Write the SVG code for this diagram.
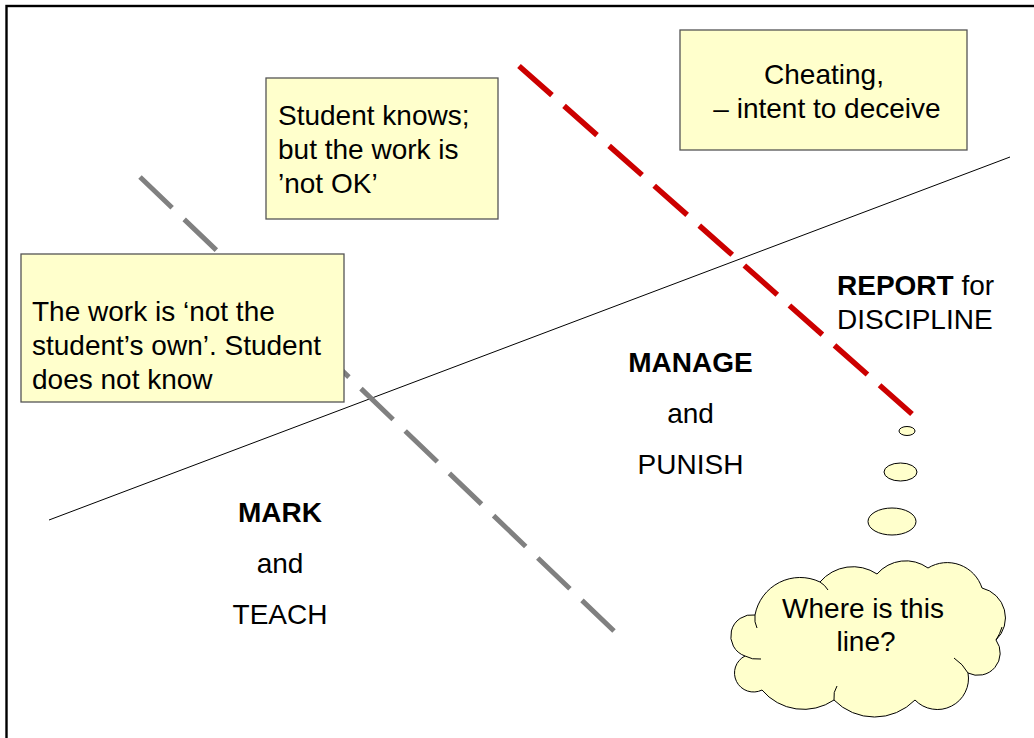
<svg xmlns="http://www.w3.org/2000/svg" width="1034" height="738" viewBox="0 0 1034 738">
<style>
text{font-family:"Liberation Sans",Arial,sans-serif;font-size:28px;fill:#000}
.b{font-weight:bold}
.box{fill:#FFFFCC;stroke:#555;stroke-width:1.3}
.bub{fill:#FFFFCC;stroke:#000;stroke-width:1}
.inner{fill:none;stroke:#000;stroke-width:1}
.c{text-anchor:middle}
</style>
<rect x="0" y="0" width="1034" height="738" fill="#fff"/>
<rect id="frame" x="6.5" y="6" width="1100" height="800" fill="none" stroke="#000" stroke-width="2.4"/>
<g id="lines">
<line x1="49" y1="520" x2="1010" y2="157" stroke="#000" stroke-width="1"/>
<line x1="140" y1="177" x2="614" y2="631" stroke="#808080" stroke-width="5" stroke-dasharray="44.5 16.7"/>
<line x1="519" y1="66" x2="912" y2="414" stroke="#CC0000" stroke-width="5.5" stroke-dasharray="44 16.2"/>
</g>
<g id="box-student-knows">
<rect class="box" x="266" y="78" width="232" height="141"/>
<text x="278" y="125">Student knows;</text>
<text x="278" y="159">but the work is</text>
<text x="278" y="193">’not OK’</text>
</g>
<g id="box-cheating">
<rect class="box" x="680" y="30" width="287" height="120"/>
<text class="c" x="824" y="84">Cheating,</text>
<text class="c" x="827" y="118">– intent to deceive</text>
</g>
<g id="box-not-own">
<rect class="box" x="21" y="254" width="323" height="148"/>
<text x="32" y="321">The work is ‘not the</text>
<text x="32" y="355">student’s own’. Student</text>
<text x="32" y="389">does not know</text>
</g>
<g id="label-report">
<text x="837" y="295"><tspan class="b">REPORT</tspan> for</text>
<text x="837" y="329">DISCIPLINE</text>
</g>
<g id="label-manage">
<text class="c b" x="690.5" y="372">MANAGE</text>
<text class="c" x="690.5" y="423">and</text>
<text class="c" x="690.5" y="474">PUNISH</text>
</g>
<g id="label-mark">
<text class="c b" x="280" y="522">MARK</text>
<text class="c" x="280" y="573">and</text>
<text class="c" x="280" y="624">TEACH</text>
</g>
<g id="thought-cloud">
<ellipse class="bub" cx="907" cy="431" rx="8" ry="4.5"/>
<ellipse class="bub" cx="900.5" cy="472" rx="16.5" ry="9"/>
<ellipse class="bub" cx="892" cy="521.5" rx="24" ry="13.5"/>
<path class="bub" d="M755,615 A45.9,45.9 0 0 1 820,582 A43.2,43.2 0 0 1 877,574 A38,38 0 0 1 928,568 A36.6,36.6 0 0 1 982,588 A30.7,30.7 0 0 1 996,640 A22.3,22.3 0 0 1 968,673 A31.1,31.1 0 0 1 915,700 A56.7,56.7 0 0 1 834,700 A54.2,54.2 0 0 1 762,690 A19,19 0 0 1 745,656 A21.2,21.2 0 0 1 755,615 Z"/>
<path class="inner" d="M755,615 Q754,622 757,628 M745,656 Q752,660 761,659 M834,700 Q833,692 837,686 M968,673 Q963,664 954,658 M996,640 Q1000,634 1002,627 M820,582 Q825,585 828,590"/>
<text class="c" x="863" y="618">Where is this</text>
<text class="c" x="866" y="651">line?</text>
</g>
</svg>
